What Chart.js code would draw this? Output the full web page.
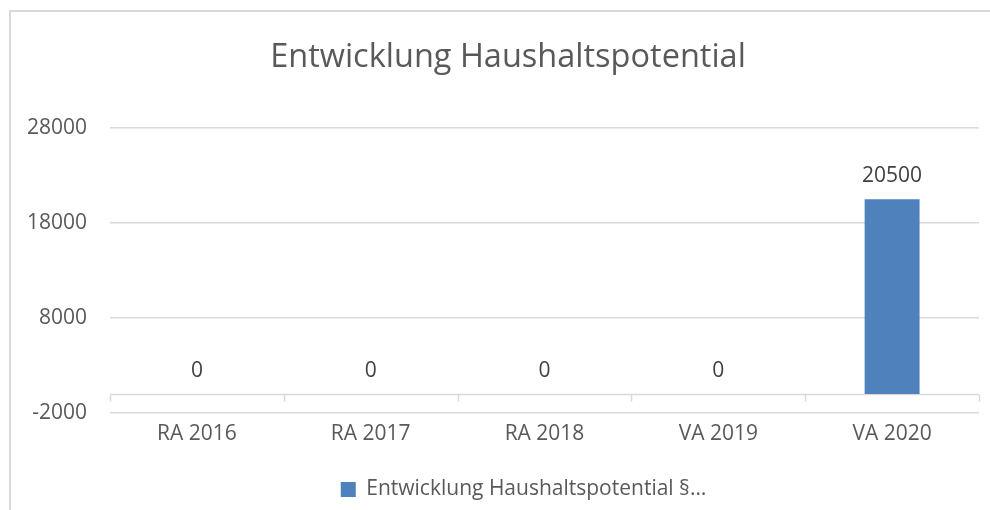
<!DOCTYPE html>
<html>
<head>
<meta charset="utf-8">
<script src="https://cdn.jsdelivr.net/npm/chart.js@4"></script>
<style>
  html, body { margin: 0; padding: 0; background: #fff; overflow: hidden; }
  #frame { position: absolute; left: 9px; top: 10px; width: 1100px; height: 600px; border: 2px solid #d9d9d9; }
  #chart { position: absolute; left: 0; top: 0; }
</style>
</head>
<body>
<div id="frame"></div>
<canvas id="chart" width="1027" height="510"></canvas>
<script>
const chartTitle = "Entwicklung Haushaltspotential";
const seriesName = "Entwicklung Haushaltspotential §…";
const categories = ["RA 2016", "RA 2017", "RA 2018", "VA 2019", "VA 2020"];
const values = [0, 0, 0, 0, 20500];
const yMin = -2000;
const yMax = 28000;
const yStep = 10000;

const textColor = "#595959";
const gridColor = "#d9d9d9";
const fontFamily = "'Open Sans', sans-serif";

// title drawn by hand so it can sit where Excel put it
const titlePlugin = {
  id: "excelTitle",
  afterDraw(chart) {
    const ctx = chart.ctx;
    ctx.save();
    ctx.font = "32.5px " + fontFamily;
    ctx.fillStyle = textColor;
    ctx.textAlign = "center";
    ctx.textBaseline = "alphabetic";
    ctx.fillText(chartTitle, 508, 67);
    ctx.restore();
  },
};

// horizontal axis line at zero with small ticks between categories
const zeroAxisPlugin = {
  id: "zeroAxis",
  beforeDatasetsDraw(chart) {
    const { ctx, chartArea, scales } = chart;
    const y = Math.round(scales.y.getPixelForValue(0)) + 0.5;
    ctx.save();
    ctx.strokeStyle = gridColor;
    ctx.lineWidth = 1.5;
    ctx.beginPath();
    ctx.moveTo(chartArea.left, y);
    ctx.lineTo(chartArea.right, y);
    for (let i = 0; i <= categories.length; i += 1) {
      const x = Math.round(scales.x.getPixelForValue(i - 0.5)) + 0.5;
      ctx.moveTo(x, y);
      ctx.lineTo(x, y + 7);
    }
    ctx.stroke();
    ctx.restore();
  },
};

const valueLabelPlugin = {
  id: "valueLabels",
  afterDatasetsDraw(chart) {
    const ctx = chart.ctx;
    const meta = chart.getDatasetMeta(0);
    ctx.save();
    ctx.font = "21px " + fontFamily;
    ctx.fillStyle = "#404040";
    ctx.textAlign = "center";
    ctx.textBaseline = "alphabetic";
    meta.data.forEach((bar, i) => {
      ctx.fillText(String(values[i]), bar.x, bar.y - 17);
    });
    ctx.restore();
  },
};

new Chart(document.getElementById("chart"), {
  type: "bar",
  data: {
    labels: categories,
    datasets: [
      {
        label: seriesName,
        data: values,
        backgroundColor: "#4f81bd",
        borderWidth: 0,
        barPercentage: 0.316,
        categoryPercentage: 1,
      },
    ],
  },
  options: {
    responsive: false,
    animation: false,
    layout: { padding: { left: 20, right: 0, top: 128, bottom: 0 } },
    plugins: {
      title: { display: false },
      tooltip: { enabled: false },
      legend: {
        position: "bottom",
        labels: {
          color: textColor,
          font: { family: fontFamily, size: 21 },
          boxWidth: 15,
          boxHeight: 15,
          padding: 4,
        },
      },
    },
    scales: {
      x: {
        grid: { display: false },
        border: { display: false },
        ticks: {
          color: textColor,
          font: { family: fontFamily, size: 21 },
          padding: 0,
          maxRotation: 0,
        },
        afterFit(scale) {
          scale.height = 62;
        },
      },
      y: {
        min: yMin,
        max: yMax,
        grid: { color: gridColor, lineWidth: 1.5, drawTicks: false },
        border: { display: false },
        ticks: {
          stepSize: yStep,
          color: textColor,
          font: { family: fontFamily, size: 21 },
          padding: 23,
          callback: (value) => String(value),
        },
        afterFit(scale) {
          scale.width = 90;
        },
      },
      // empty right-hand spacer so the legend centres like the original
      spacer: {
        type: "linear",
        position: "right",
        grid: { display: false },
        border: { display: false },
        ticks: { display: false },
        afterFit(scale) {
          scale.width = 48;
        },
      },
    },
  },
  plugins: [titlePlugin, zeroAxisPlugin, valueLabelPlugin],
});
</script>
</body>
</html>
